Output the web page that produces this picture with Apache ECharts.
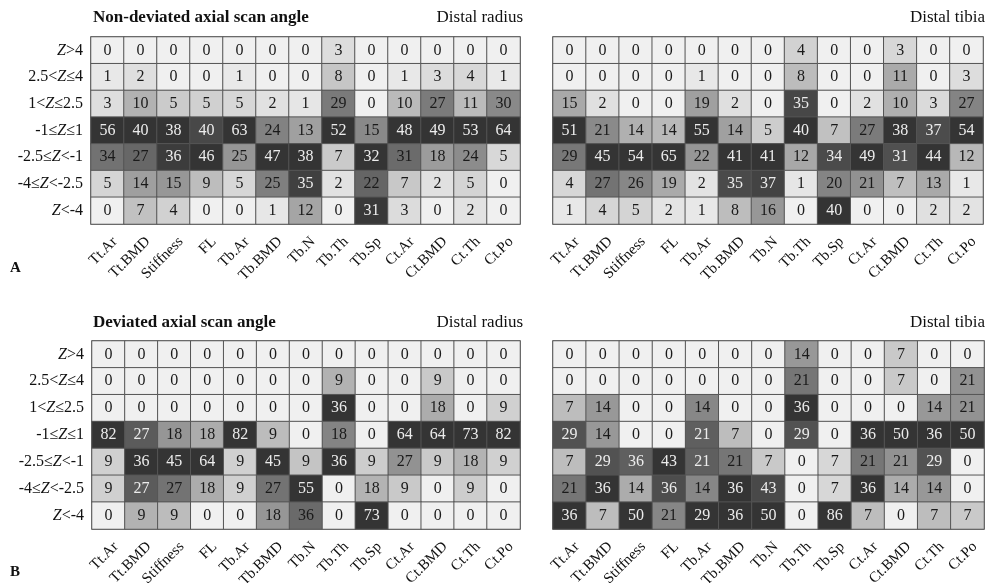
<!DOCTYPE html>
<html><head><meta charset="utf-8">
<script src="https://cdn.jsdelivr.net/npm/echarts@6/dist/echarts.min.js"></script>
<style>html,body{margin:0;padding:0;background:#fff}#c{width:990px;height:583px}</style>
</head><body><div id="c"></div>
<script>
// ---- data ----
const parameters = ['Tt.Ar','Tt.BMD','Stiffness','FL','Tb.Ar','Tb.BMD','Tb.N','Tb.Th','Tb.Sp','Ct.Ar','Ct.BMD','Ct.Th','Ct.Po'];
const zBins = ['Z>4','2.5<Z≤4','1<Z≤2.5','-1≤Z≤1','-2.5≤Z<-1','-4≤Z<-2.5','Z<-4'];

// rows follow zBins (top to bottom), columns follow parameters
const nonDevRadius = [
  [0,0,0,0,0,0,0,3,0,0,0,0,0],
  [1,2,0,0,1,0,0,8,0,1,3,4,1],
  [3,10,5,5,5,2,1,29,0,10,27,11,30],
  [56,40,38,40,63,24,13,52,15,48,49,53,64],
  [34,27,36,46,25,47,38,7,32,31,18,24,5],
  [5,14,15,9,5,25,35,2,22,7,2,5,0],
  [0,7,4,0,0,1,12,0,31,3,0,2,0]
];
const nonDevTibia = [
  [0,0,0,0,0,0,0,4,0,0,3,0,0],
  [0,0,0,0,1,0,0,8,0,0,11,0,3],
  [15,2,0,0,19,2,0,35,0,2,10,3,27],
  [51,21,14,14,55,14,5,40,7,27,38,37,54],
  [29,45,54,65,22,41,41,12,34,49,31,44,12],
  [4,27,26,19,2,35,37,1,20,21,7,13,1],
  [1,4,5,2,1,8,16,0,40,0,0,2,2]
];
const devRadius = [
  [0,0,0,0,0,0,0,0,0,0,0,0,0],
  [0,0,0,0,0,0,0,9,0,0,9,0,0],
  [0,0,0,0,0,0,0,36,0,0,18,0,9],
  [82,27,18,18,82,9,0,18,0,64,64,73,82],
  [9,36,45,64,9,45,9,36,9,27,9,18,9],
  [9,27,27,18,9,27,55,0,18,9,0,9,0],
  [0,9,9,0,0,18,36,0,73,0,0,0,0]
];
const devTibia = [
  [0,0,0,0,0,0,0,14,0,0,7,0,0],
  [0,0,0,0,0,0,0,21,0,0,7,0,21],
  [7,14,0,0,14,0,0,36,0,0,0,14,21],
  [29,14,0,0,21,7,0,29,0,36,50,36,50],
  [7,29,36,43,21,21,7,0,7,21,21,29,0],
  [21,36,14,36,14,36,43,0,7,36,14,14,0],
  [36,7,50,21,29,36,50,0,86,7,0,7,7]
];

const panelTitles = ['Non-deviated axial scan angle','Deviated axial scan angle'];
const siteTitles = ['Distal radius','Distal tibia'];
const panelLetters = ['A','B'];

// ---- build ----
const FONT = '"Liberation Serif","DejaVu Serif",serif';
const LIGHT = 240, DARK = 52;

function buildData(tbl){
  const colMax = parameters.map((_,c)=>Math.max(...tbl.map(r=>r[c])));
  const out = [];
  tbl.forEach((row,r)=>row.forEach((v,c)=>{
    const t = colMax[c] > 0 ? Math.pow(v/colMax[c],0.8) : 0;
    const g = Math.round(LIGHT - (LIGHT-DARK)*t);
    out.push({
      value:[c,r,v],
      itemStyle:{color:`rgb(${g},${g},${g})`},
      label:{color: (v/colMax[c] > 0.7) ? '#ececec' : '#1a1a1a'}
    });
  }));
  return out;
}

const tables = [nonDevRadius, nonDevTibia, devRadius, devTibia];
const grids = [
  {left:91, top:37, width:429, height:187},
  {left:553, top:37, width:430, height:187},
  {left:92, top:341, width:428, height:188},
  {left:553, top:341, width:431, height:188}
];

const yLabelFmt = s => { const p = s.split('Z'); return p[0] + '{i|Z}' + p[1]; };
const titleStyle = (bold) => ({fontFamily:FONT, fontSize:17, fontWeight: bold ? 'bold' : 'normal', color:'#111'});

const option = {
  animation:false,
  backgroundColor:'#fff',
  title:[
    {text:panelTitles[0], left:93, top:9, padding:0, textStyle:titleStyle(true)},
    {text:siteTitles[0], right:467, top:9, padding:0, textStyle:titleStyle(false)},
    {text:siteTitles[1], right:5, top:9, padding:0, textStyle:titleStyle(false)},
    {text:panelTitles[1], left:93, top:314, padding:0, textStyle:titleStyle(true)},
    {text:siteTitles[0], right:467, top:314, padding:0, textStyle:titleStyle(false)},
    {text:siteTitles[1], right:5, top:314, padding:0, textStyle:titleStyle(false)},
    {text:panelLetters[0], left:10, top:261, padding:0, textStyle:{fontFamily:FONT, fontSize:15, fontWeight:'bold', color:'#111'}},
    {text:panelLetters[1], left:10, top:565, padding:0, textStyle:{fontFamily:FONT, fontSize:15, fontWeight:'bold', color:'#111'}}
  ],
  grid: grids.map(g=>Object.assign({show:true, borderColor:'#707070', borderWidth:1.5, backgroundColor:'transparent',
    containLabel:false, outerBoundsMode:'none'}, g)),
  xAxis: grids.map((g,i)=>({
    type:'category', gridIndex:i, data:parameters,
    axisLine:{show:false}, axisTick:{show:false}, splitLine:{show:false},
    axisLabel:{rotate:45, margin:8, interval:0, fontFamily:FONT, fontSize:15, color:'#111',
      verticalAlign:'top', padding:[3,0,0,0]}
  })),
  yAxis: grids.map((g,i)=>({
    type:'category', gridIndex:i, data:zBins, inverse:true,
    axisLine:{show:false}, axisTick:{show:false}, splitLine:{show:false},
    axisLabel:{show: i%2===0, margin:8, fontFamily:FONT, fontSize:16, color:'#111',
      formatter:yLabelFmt, rich:{i:{fontStyle:'italic', fontFamily:FONT, fontSize:16, color:'#111'}}}
  })),
  series: tables.map((t,i)=>({
    type:'heatmap', xAxisIndex:i, yAxisIndex:i,
    data: buildData(t),
    itemStyle:{borderColor:'#555', borderWidth:1},
    label:{show:true, fontFamily:FONT, fontSize:16},
    emphasis:{disabled:true}
  }))
};

const chart = echarts.init(document.getElementById('c'), null, {renderer:'canvas'});
chart.setOption(option);
</script>
</body></html>
